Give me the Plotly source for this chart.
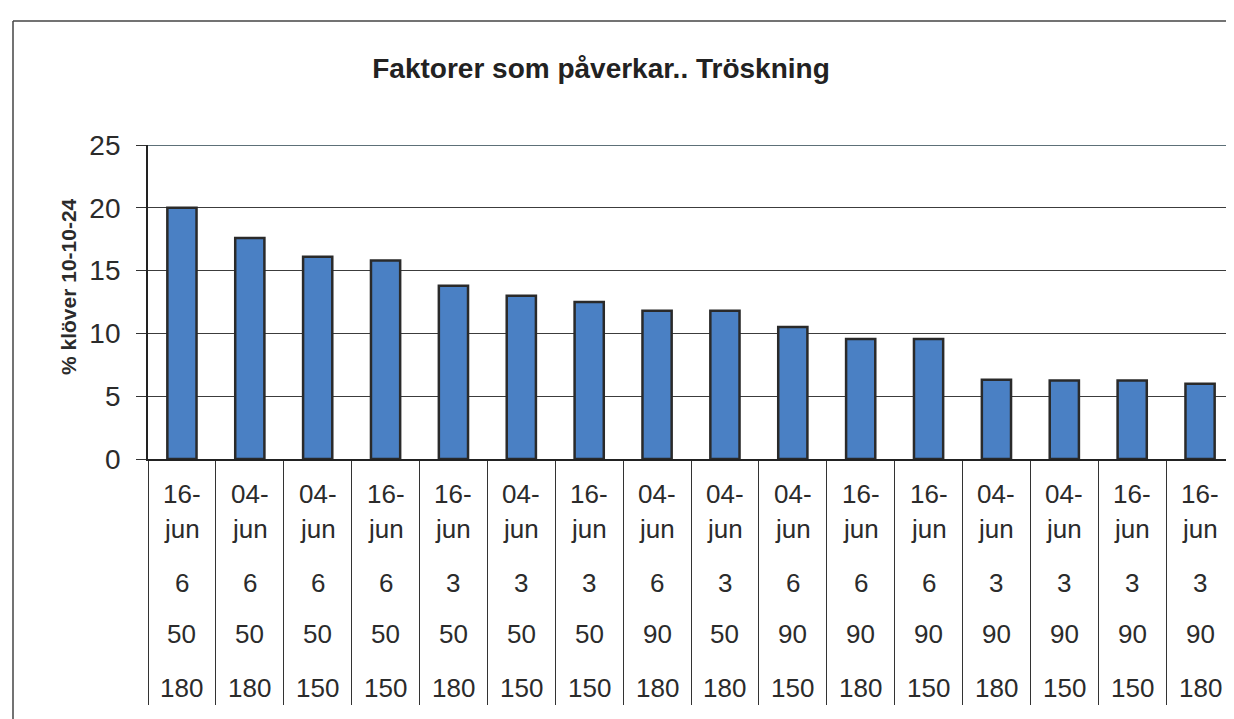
import plotly.graph_objects as go

# ---- data ----
dates = ["16-jun", "04-jun", "04-jun", "16-jun", "16-jun", "04-jun", "16-jun", "04-jun",
         "04-jun", "04-jun", "16-jun", "16-jun", "04-jun", "04-jun", "16-jun", "16-jun"]
row_a = ["6", "6", "6", "6", "3", "3", "3", "6", "3", "6", "6", "6", "3", "3", "3", "3"]
row_b = ["50", "50", "50", "50", "50", "50", "50", "90", "50", "90", "90", "90", "90", "90", "90", "90"]
row_c = ["180", "180", "150", "150", "180", "150", "150", "180", "180", "150", "180", "150",
         "180", "150", "150", "180"]
values = [20.0, 17.6, 16.1, 15.8, 13.8, 13.0, 12.5, 11.8, 11.8, 10.5, 9.55, 9.55,
          6.3, 6.25, 6.25, 6.0]

title_text = "Faktorer som påverkar.. Tröskning"
y_title = "% klöver 10-10-24"
y_ticks = [0, 5, 10, 15, 20, 25]

categories = [f"{d} {a} {b} {c}" for d, a, b, c in zip(dates, row_a, row_b, row_c)]

FONT = "Liberation Sans, Arial, sans-serif"
TXT = "#2b2b2b"

# page is drawn with an 8px body margin, so the figure is offset by 8px
W, H = 1226, 711
ML, MT, MB = 140, 137, 260
PH = H - MT - MB  # plot height in px
PW = W - ML       # plot width in px

fig = go.Figure()
fig.add_trace(go.Bar(
    x=categories, y=values,
    marker=dict(color="#4a80c4", line=dict(color="#2a2a2a", width=2.5)),
    hoverinfo="y",
))

annotations = []
for cat, d, a, b, c in zip(categories, dates, row_a, row_b, row_c):
    top, bot = d.split("-")
    for txt, off in [(top + "-", 35), (bot, 70), (a, 124), (b, 175), (c, 229)]:
        annotations.append(dict(
            x=cat, xref="x", y=0, yref="paper", yshift=-off, yanchor="middle",
            xanchor="center", text=txt, showarrow=False,
            font=dict(family=FONT, size=26, color=TXT),
        ))

# y axis title
annotations.append(dict(
    x=0, xref="paper", xshift=-80, y=(451 - 279) / PH, yref="paper", textangle=-90,
    text="<b>" + y_title + "</b>", showarrow=False, xanchor="center", yanchor="middle",
    font=dict(family=FONT, size=21, color=TXT),
))

fx = (5 - ML) / PW    # frame left border (x = 13 in page px)
fy = (451 - 13) / PH  # frame top border (y = 21 in page px)
shapes = [
    dict(type="line", xref="paper", yref="paper", x0=fx, x1=1.0, y0=fy, y1=fy,
         line=dict(color="#444", width=1.5)),
    dict(type="line", xref="paper", yref="paper", x0=fx, x1=fx, y0=fy, y1=-(H - 451) / PH - 0.05,
         line=dict(color="#444", width=1.5)),
    # top gridline at 25
    dict(type="line", xref="paper", yref="y", x0=0, x1=1, y0=25, y1=25,
         line=dict(color="#5d7078", width=2)),
]

fig.update_layout(
    width=W, height=H,
    margin=dict(l=ML, r=0, t=MT, b=MB),
    paper_bgcolor="white", plot_bgcolor="white",
    showlegend=False,
    bargap=0.57,
    title=dict(text="<b>" + title_text + "</b>", x=(601 - 8) / W, xref="container",
               xanchor="center", y=1 - (68 - 8) / H, yref="container", yanchor="middle",
               font=dict(family=FONT, size=28, color="#222")),
    xaxis=dict(
        type="category", categoryorder="array", categoryarray=categories,
        showticklabels=False, ticks="outside", tickson="boundaries", ticklen=244,
        tickcolor="#333", tickwidth=1.2,
        showline=True, linecolor="#222", linewidth=1.8, showgrid=False,
        range=[-0.5, len(categories) - 0.5],
    ),
    yaxis=dict(
        range=[0, 25], tickvals=y_ticks, ticks="outside", ticklen=10, tickcolor="#333",
        ticklabelstandoff=10,
        tickfont=dict(family=FONT, size=28, color=TXT),
        showgrid=True, gridcolor="#3c3c3c", gridwidth=1,
        showline=True, linecolor="#222", linewidth=1.8, zeroline=False,
    ),
    annotations=annotations,
    shapes=shapes,
)

fig.write_html("out.html")
